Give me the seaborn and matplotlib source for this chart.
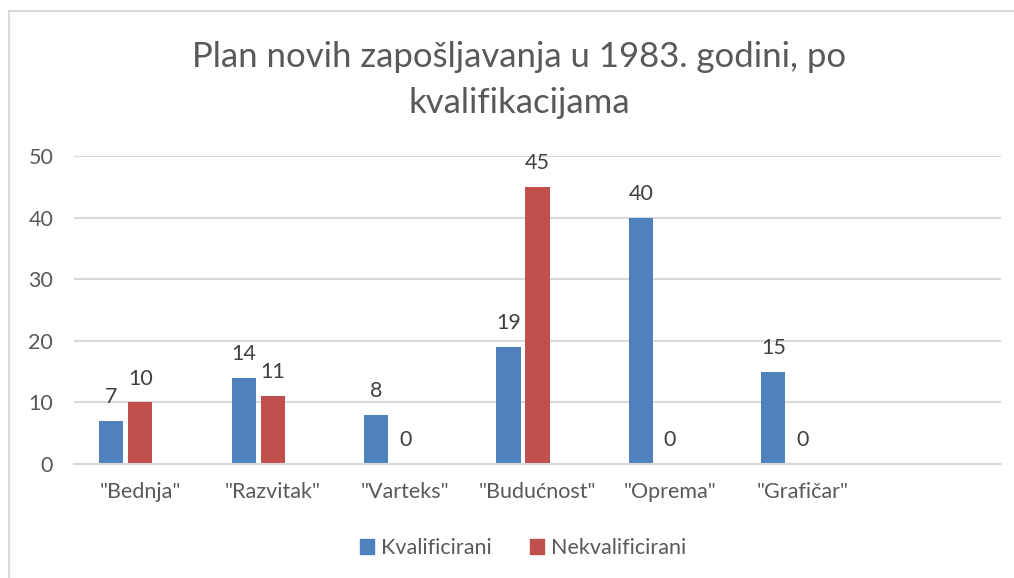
import numpy as np
import pandas as pd
import seaborn as sns
import matplotlib.pyplot as plt
from matplotlib.patches import Rectangle, Patch

sns.set_style("white")
plt.rcParams["font.family"] = ["Lato", "DejaVu Sans"]

poduzeca = ['"Bednja"', '"Razvitak"', '"Varteks"', '"Budućnost"', '"Oprema"', '"Grafičar"']
kvalificirani = [7, 14, 8, 19, 40, 15]
nekvalificirani = [10, 11, 0, 45, 0, 0]
serije = ["Kvalificirani", "Nekvalificirani"]

blue = "#4F81BD"
red = "#C0504D"
txt = "#595959"

# Excel chart has a third (empty) series and an empty 7th category
df = pd.DataFrame({
    "poduzece": poduzeca * 3,
    "serija": [serije[0]] * 6 + [serije[1]] * 6 + ["_prazno"] * 6,
    "broj": kvalificirani + nekvalificirani + [0] * 6,
})
order = poduzeca + [" "]

fig = plt.figure(figsize=(10.14, 5.78), dpi=100)
ax = fig.add_axes([74 / 1014, 1 - 464 / 578, 927 / 1014, 308 / 578])

sns.barplot(data=df, x="poduzece", y="broj", hue="serija", order=order,
            hue_order=serije + ["_prazno"], palette=[blue, red, (1, 1, 1, 0)],
            saturation=1, width=0.657, gap=0.17, linewidth=0,
            legend=False, ax=ax, errorbar=None)

ax.set_xlim(-0.5, 6.5)
ax.set_ylim(0, 50)
ax.set_yticks(range(0, 51, 10))
ax.yaxis.grid(True, color="#d9d9d9", linewidth=1.5)
ax.set_axisbelow(True)
for s in ["top", "right", "left"]:
    ax.spines[s].set_visible(False)
ax.spines["bottom"].set_color("#d9d9d9")
ax.spines["bottom"].set_linewidth(1.5)
ax.tick_params(axis="both", length=0, labelsize=15.5, labelcolor=txt)
ax.tick_params(axis="y", pad=15)
ax.tick_params(axis="x", pad=13)
ax.set_xlabel("")
ax.set_ylabel("")

for cont in ax.containers[:2]:
    ax.bar_label(cont, padding=10, fontsize=15.5, color="#404040")

fig.text(0.512, 1 - 57 / 578, "Plan novih zapošljavanja u 1983. godini, po",
         ha="center", va="center", fontsize=25, color=txt)
fig.text(0.512, 1 - 103 / 578, "kvalifikacijama",
         ha="center", va="center", fontsize=25, color=txt)

handles = [Patch(color=blue, label=serije[0]), Patch(color=red, label=serije[1])]
leg = fig.legend(handles=handles, loc="center", bbox_to_anchor=(0.516, 1 - 548 / 578),
                 ncol=2, frameon=False, fontsize=15.5, handlelength=0.65, handleheight=0.65,
                 handletextpad=0.3, columnspacing=1.8)
for t in leg.get_texts():
    t.set_color(txt)

fig.patches.append(Rectangle((9 / 1014, -0.1), 1.2, 1 - 11 / 578 + 0.1,
                             transform=fig.transFigure, fill=False,
                             edgecolor="#d9d9d9", linewidth=1.5))

fig.savefig("out.png", dpi=100)
